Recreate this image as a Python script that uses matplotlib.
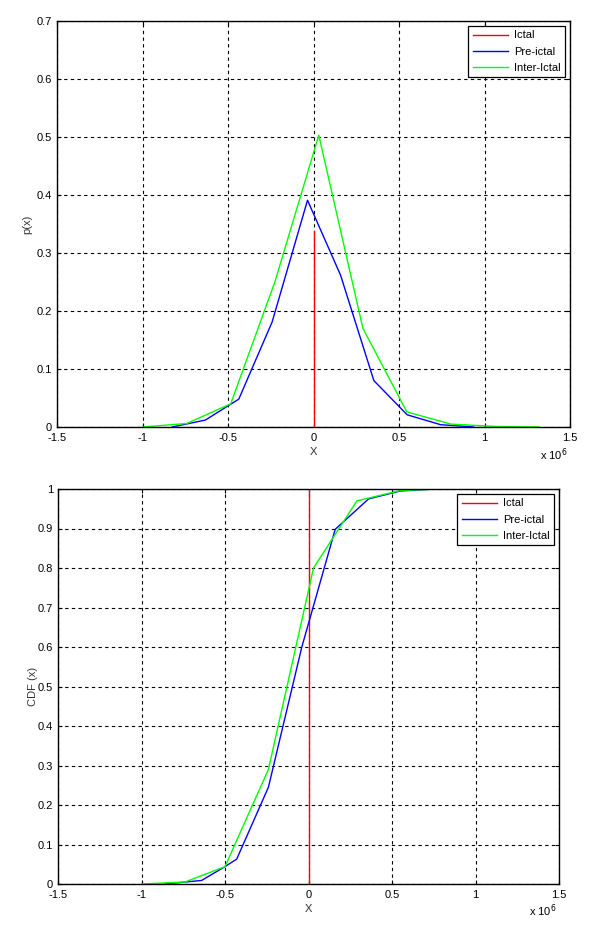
import matplotlib
matplotlib.use("Agg")
from matplotlib import pyplot as plt
from matplotlib.ticker import FuncFormatter

# x values are in units of 1e6
# top panel: probability p(x)
ictal_x = [0.0, 0.0]
ictal_p = [0.0, 0.338]

pre_x = [-0.826, -0.632, -0.437, -0.242, -0.035, 0.158, 0.353, 0.548, 0.743, 0.937]
pre_p = [0.0, 0.012, 0.048, 0.181, 0.391, 0.262, 0.080, 0.021, 0.004, 0.0]

inter_x = [-1.0, -0.742, -0.484, -0.226, 0.031, 0.289, 0.546, 0.804, 1.062, 1.32]
inter_p = [0.0, 0.006, 0.040, 0.250, 0.503, 0.170, 0.026, 0.005, 0.001, 0.0]

# bottom panel: CDF
ictal_cdf_x = [0.0, 0.0]
ictal_cdf = [0.0, 1.0]

pre_cdf_x = [-0.86, -0.64, -0.5, -0.43, -0.24, -0.04, 0.16, 0.36, 0.55, 0.75, 0.94]
pre_cdf = [0.0, 0.009, 0.044, 0.063, 0.245, 0.60, 0.898, 0.975, 0.995, 1.0, 1.0]

inter_cdf_x = [-1.0, -0.74, -0.5, -0.24, 0.03, 0.29, 0.55, 0.79, 1.06, 1.32]
inter_cdf = [0.0, 0.005, 0.044, 0.29, 0.80, 0.97, 0.996, 1.0, 1.0, 1.0]

labels = ["Ictal", "Pre-ictal", "Inter-Ictal"]
colors = ["#ff0000", "#0000ff", "#00ff00"]

xticks = [-1.5, -1, -0.5, 0, 0.5, 1, 1.5]

plt.rcParams["font.family"] = ["Liberation Sans", "DejaVu Sans"]
plt.rcParams["font.size"] = 8

fig = plt.figure(figsize=(5.91, 9.30), dpi=100)
W, H = 591.0, 930.0


def make_axes(left, right, top, bottom):
    return fig.add_axes([left / W, 1 - bottom / H, (right - left) / W, (bottom - top) / H])


fmt = FuncFormatter(lambda v, pos: "%g" % v)


def style(ax, ymax, ystep, ylabel, ypad, off_dy):
    ax.set_xlim(-1.5, 1.5)
    ax.set_ylim(0, ymax)
    ax.set_xticks(xticks)
    n = int(round(ymax / ystep))
    ax.set_yticks([round(i * ystep, 2) for i in range(n + 1)])
    ax.xaxis.set_major_formatter(fmt)
    ax.yaxis.set_major_formatter(fmt)
    ax.tick_params(direction="in", length=3, width=0.8, top=True, right=True,
                   labelsize=8)
    ax.tick_params(axis="x", pad=4.5)
    ax.tick_params(axis="y", pad=3.5)
    ax.grid(True, color="black", linestyle=(0, (3, 3)), linewidth=0.8)
    for s in ax.spines.values():
        s.set_linewidth(1.0)
    ax.set_xlabel("X", fontsize=8, color="#333333", labelpad=3)
    ax.set_ylabel(ylabel, fontsize=8, color="#333333", labelpad=ypad)
    ax.annotate("x 10$^{6}$", xy=(1.0, 0.0), xycoords="axes fraction",
                xytext=(-2, off_dy), textcoords="offset points",
                ha="right", va="top", fontsize=8)
    leg = ax.legend(loc="upper right", fontsize=8, fancybox=False, framealpha=1,
                    edgecolor="black", handlelength=3.2, handletextpad=0.5,
                    labelspacing=0.55, borderpad=0.4, borderaxespad=0.45)
    leg.get_frame().set_linewidth(0.9)


ax1 = make_axes(57, 570, 21, 427)
ax1.plot(ictal_x, ictal_p, color=colors[0], lw=1.0, label=labels[0])
ax1.plot(pre_x, pre_p, color=colors[1], lw=1.0, label=labels[1])
ax1.plot(inter_x, inter_p, color=colors[2], lw=1.0, label=labels[2])
style(ax1, 0.7, 0.1, "p(x)", 3, -14)

ax2 = make_axes(58, 559, 489, 884)
ax2.plot(ictal_cdf_x, ictal_cdf, color=colors[0], lw=1.0, label=labels[0])
ax2.plot(pre_cdf_x, pre_cdf, color=colors[1], lw=1.0, label=labels[1])
ax2.plot(inter_cdf_x, inter_cdf, color=colors[2], lw=1.0, label=labels[2])
style(ax2, 1.0, 0.1, "CDF (x)", 0, -13)

fig.savefig("out.png", dpi=100)
